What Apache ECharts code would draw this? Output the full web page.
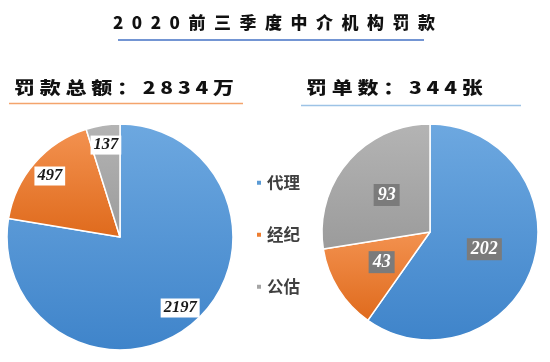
<!DOCTYPE html>
<html>
<head>
<meta charset="utf-8">
<script src="https://cdn.jsdelivr.net/npm/echarts@6/dist/echarts.min.js"></script>
<style>html,body{margin:0;padding:0;background:#fff;}#c{width:550px;height:362px;}</style>
</head>
<body>
<div id="c"></div>
<script>
// ---- data ----
const categories = ['代理', '经纪', '公估'];
const fineAmounts = [2197, 497, 137];      // 罚款总额 (万)
const fineCounts = [202, 43, 93];          // 罚单数 (张)
const mainTitle = '2020前三季度中介机构罚款';
const leftTitle = '罚款总额：2834万';
const rightTitle = '罚单数：344张';

// ---- styles ----
const solid = ['#5b9bd5', '#ed7d31', '#a5a5a5'];
const grads = [['#6da8e0', '#3f84ca'], ['#f39250', '#df6a1c'], ['#b4b4b4', '#9b9b9b']];
function grad(i) {
  return new echarts.graphic.LinearGradient(0, 0, 0, 1, [
    { offset: 0, color: grads[i][0] }, { offset: 1, color: grads[i][1] }
  ]);
}
function spaced(s, sep) { return s.split('').join(sep); }
function pieData(vals) {
  return categories.map((n, i) => ({ name: n, value: vals[i], itemStyle: { color: grad(i) } }));
}
function plainData(vals) {
  return categories.map((n, i) => ({ name: n, value: vals[i] }));
}
const cjk = '"Noto Sans CJK SC", "Noto Sans", sans-serif';
const serif = '"Liberation Serif", "DejaVu Serif", serif';

const chart = echarts.init(document.getElementById('c'), null, { renderer: 'canvas' });
chart.setOption({
  backgroundColor: '#ffffff',
  animation: false,
  legend: {
    orient: 'vertical', left: 250, top: 169.5, padding: 5, itemWidth: 6, itemHeight: 6, itemGap: 35.5,
    icon: 'rect', selectedMode: false,
    data: categories.map((n, i) => ({ name: n, itemStyle: { color: solid[i] } })),
    textStyle: { fontFamily: cjk, fontSize: 16.5, fontWeight: 'bold', color: '#404040', lineHeight: 16 }
  },
  graphic: [
    { type: 'text', x: 113, y: 23, silent: true,
      style: { text: spaced(mainTitle, '\u2002'), font: '900 17px ' + cjk, fill: '#111111', align: 'left', verticalAlign: 'middle' } },
    { type: 'line', silent: true, shape: { x1: 118, y1: 40, x2: 424, y2: 40 }, style: { stroke: '#4472c4', lineWidth: 1.5 } },
    { type: 'text', x: 14, y: 87.5, scaleX: 1.27, silent: true,
      style: { text: spaced(leftTitle, ' '), font: '900 16.5px ' + cjk, fill: '#111111', align: 'left', verticalAlign: 'middle' } },
    { type: 'line', silent: true, shape: { x1: 9, y1: 103.5, x2: 243, y2: 103.5 }, style: { stroke: '#f4a46c', lineWidth: 1.5 } },
    { type: 'text', x: 306, y: 87.5, scaleX: 1.27, silent: true,
      style: { text: spaced(rightTitle, ' '), font: '900 16.5px ' + cjk, fill: '#111111', align: 'left', verticalAlign: 'middle' } },
    { type: 'line', silent: true, shape: { x1: 301, y1: 105.5, x2: 521, y2: 105.5 }, style: { stroke: '#9dc3e6', lineWidth: 1.5 } }
  ],
  series: [
    {
      type: 'pie', center: [120, 237], radius: 113, startAngle: 90, clockwise: true, silent: true,
      data: pieData(fineAmounts), label: { show: false }, labelLine: { show: false },
      itemStyle: { borderColor: '#ffffff', borderWidth: 1.5 }, emphasis: { disabled: true }
    },
    {
      type: 'pie', center: [120, 237], radius: [67, 113], startAngle: 90, clockwise: true, silent: true,
      data: plainData(fineAmounts), itemStyle: { color: 'rgba(0,0,0,0)', borderWidth: 0 },
      labelLine: { show: false }, emphasis: { disabled: true },
      label: { show: true, position: 'inside', formatter: '{c}', fontFamily: serif, fontStyle: 'italic',
        fontWeight: 'bold', fontSize: 16.5, color: '#1a1a1a', backgroundColor: '#ffffff', padding: [2, 3, 0, 3], lineHeight: 17 }
    },
    {
      type: 'pie', center: [430, 232], radius: 108, startAngle: 90, clockwise: true, silent: true,
      data: pieData(fineCounts), labelLine: { show: false }, emphasis: { disabled: true },
      itemStyle: { borderColor: '#ffffff', borderWidth: 1.5 },
      label: { show: true, position: 'inside', formatter: '{c}', fontFamily: serif, fontStyle: 'italic',
        fontWeight: 'bold', fontSize: 18, color: '#ffffff', backgroundColor: '#7b7b7b', padding: [2, 4, 1, 4], lineHeight: 19 }
    }
  ]
});
</script>
</body>
</html>
